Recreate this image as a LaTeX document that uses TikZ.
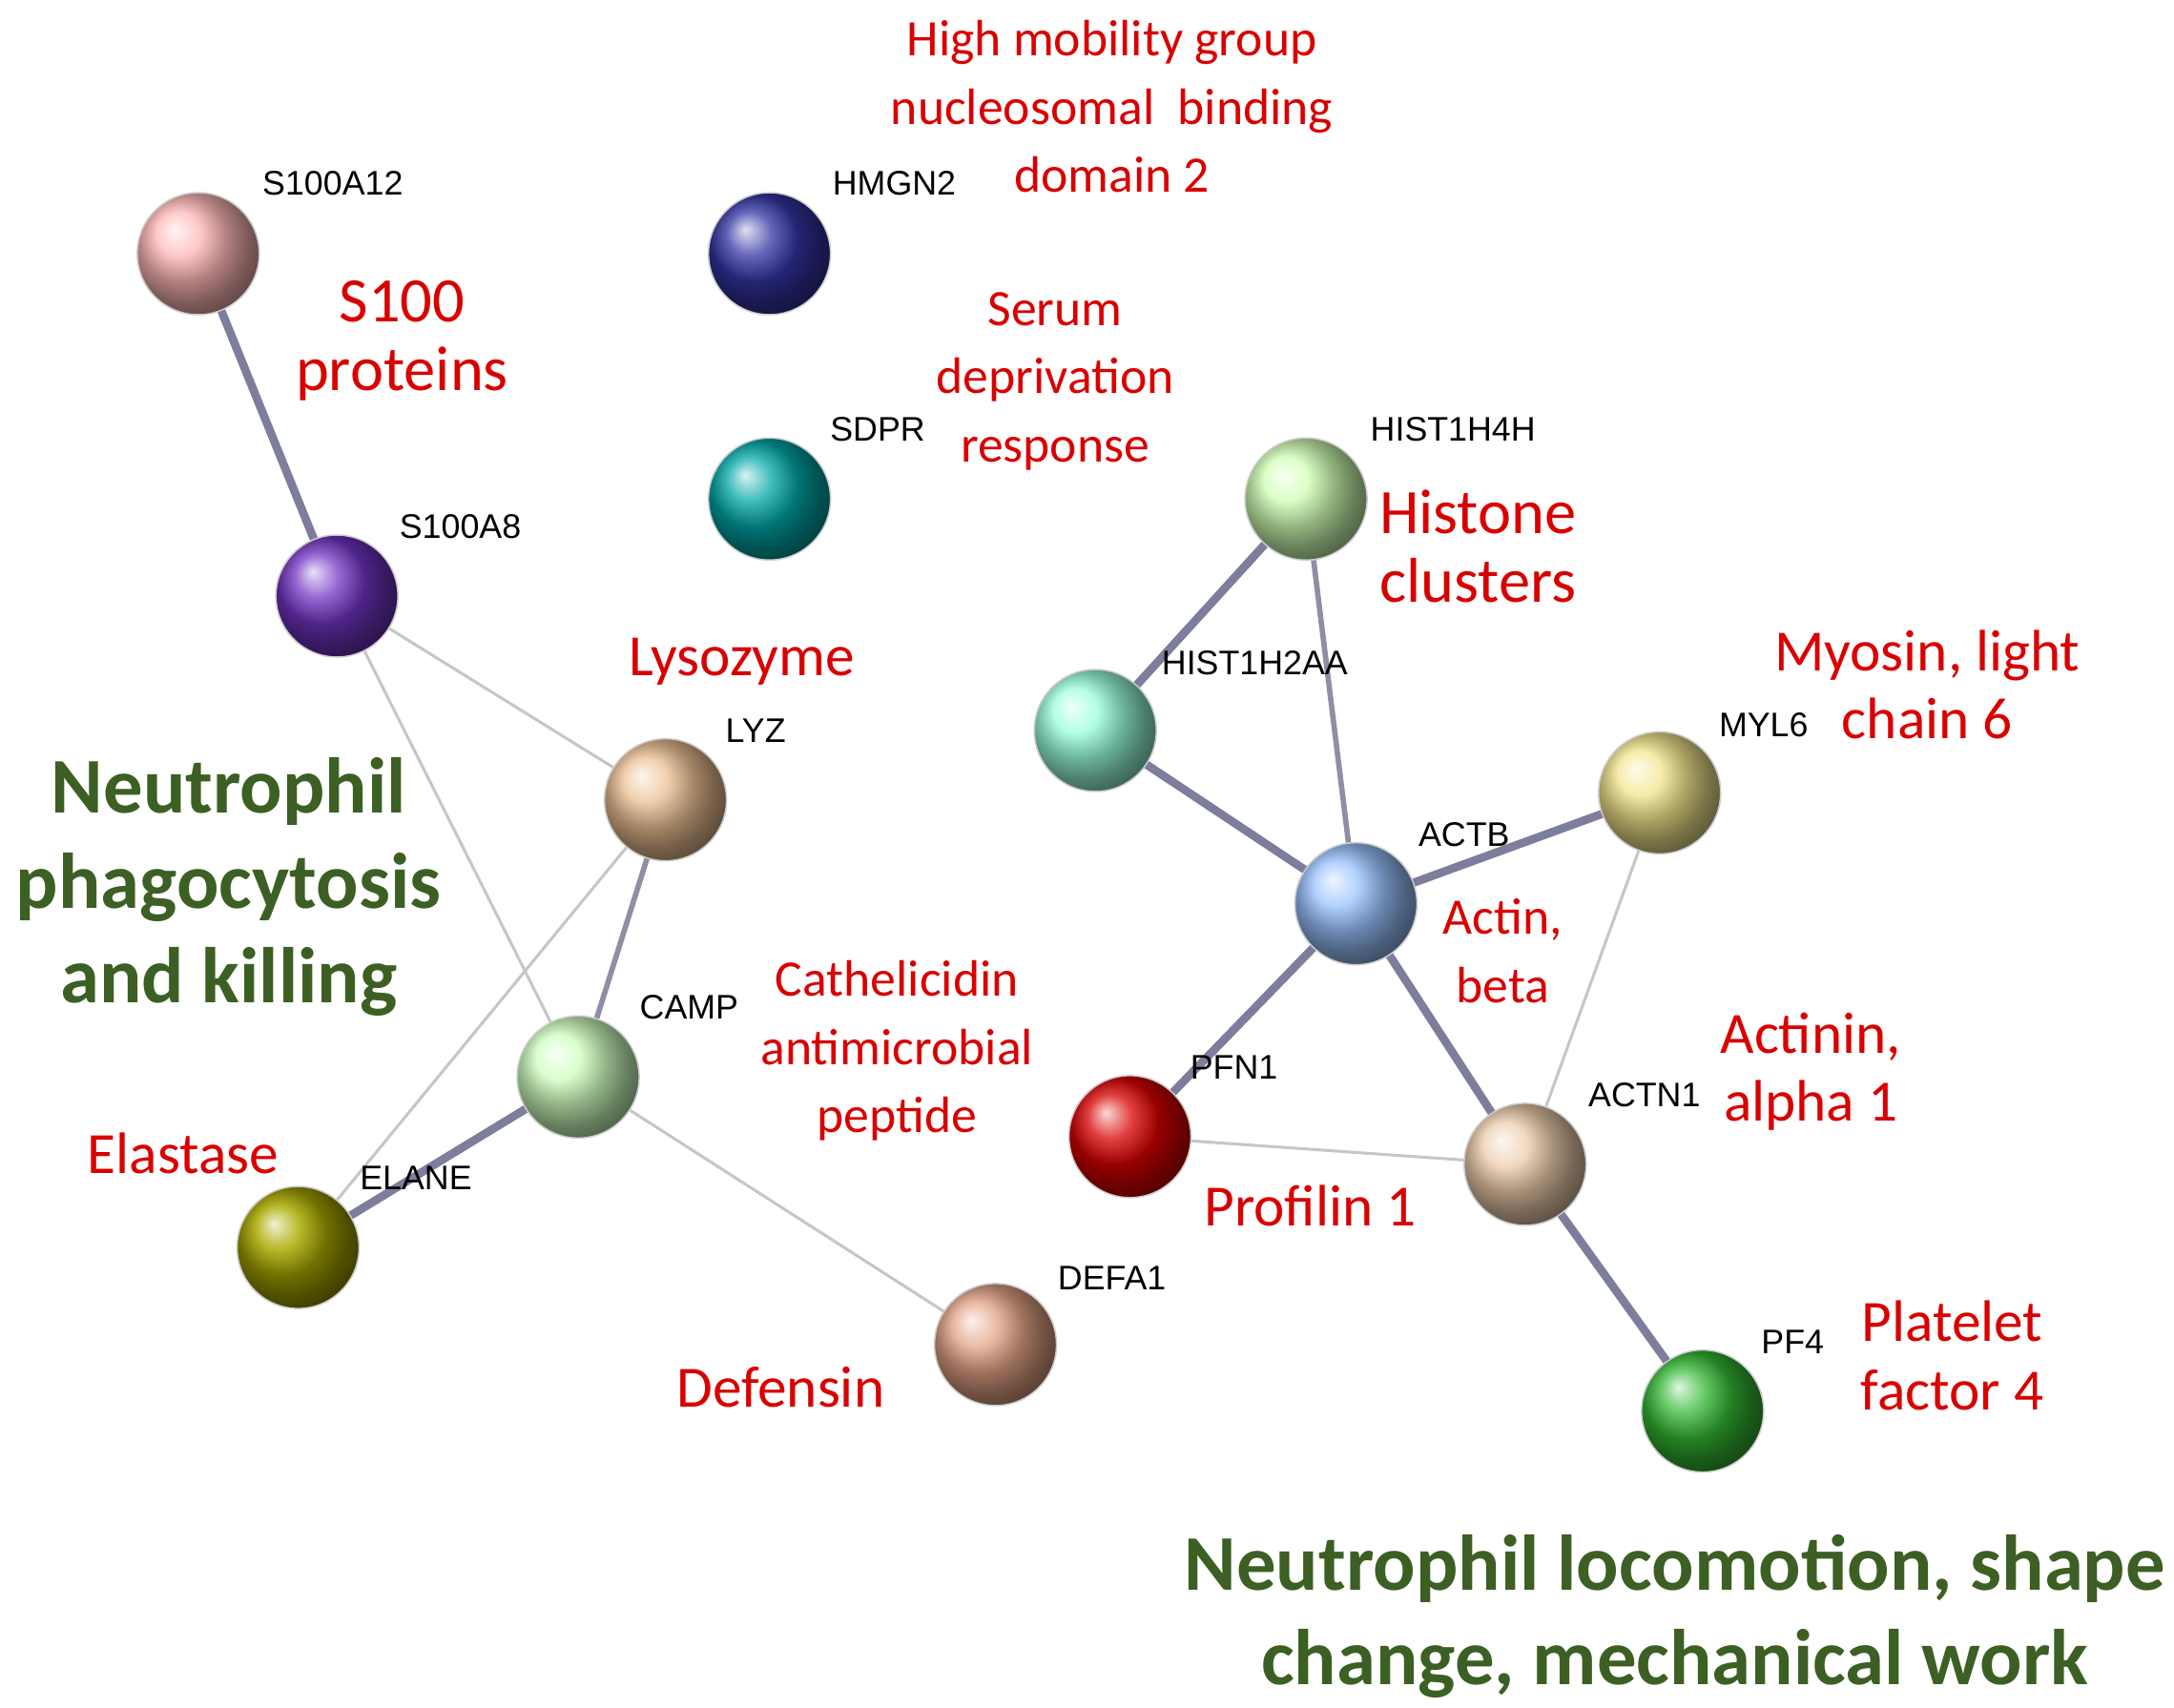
\documentclass[tikz,border=0pt]{standalone}
\usepackage{fontspec}
\setmainfont{Carlito}
\newfontfamily\genefont{Liberation Sans}
\usetikzlibrary{positioning}
\definecolor{groupgreen}{RGB}{60,95,35}
\tikzset{
  prot/.style={circle, minimum size=0.88cm, inner sep=0pt, ball color=#1, draw=gray!40, line width=0.3pt},
  gene/.style={font=\genefont\fontsize{7}{8}\selectfont, text=black},
  func/.style={font=\fontsize{10.5}{14}\selectfont, text=red!85!black, align=center},
  group/.style={font=\bfseries\fontsize{16.2}{19.5}\selectfont, text=groupgreen, align=center},
  strong/.style={line width=1.7pt, draw=gray!60!blue!50!black!60},
  weak/.style={line width=0.6pt, draw=gray!45},
  mid/.style={line width=1.1pt, draw=gray!55!blue!40!black!50},
}
\begin{document}
\begin{tikzpicture}[x=0.01cm, y=-0.01cm]
  \useasboundingbox (0,0) rectangle (1568,1232);
  %proteins
  \node[prot=pink!70!red!60!white] (s100a12) at (143,183) {};
  \node[prot=blue!55!black!80!white] (hmgn2) at (555,183) {};
  \node[prot=teal!70!cyan] (sdpr) at (555,360) {};
  \node[prot=violet!60!blue!80!white] (s100a8) at (243,430) {};
  \node[prot=lime!50!green!30!white] (hist1h4h) at (942,360) {};
  \node[prot=green!35!cyan!40!white] (hist1h2aa) at (790,527) {};
  \node[prot=orange!40!brown!50] (lyz) at (480,577) {};
  \node[prot=yellow!60!brown!50] (myl6) at (1197,572) {};
  \node[prot=cyan!40!blue!40!white] (actb) at (978,652) {};
  \node[prot=lime!30!green!25!white] (camp) at (417,777) {};
  \node[prot=red!85!black] (pfn1) at (815,820) {};
  \node[prot=orange!30!brown!40] (actn1) at (1100,840) {};
  \node[prot=olive!75] (elane) at (215,900) {};
  \node[prot=brown!45!pink] (defa1) at (718,970) {};
  \node[prot=green!65!black!80!white] (pf4) at (1228,1018) {};
  %links
  \begin{scope}[on background layer/.try]
  \draw[strong] (s100a12) -- (s100a8);
  \draw[weak] (s100a8) -- (lyz);
  \draw[weak] (s100a8) -- (camp);
  \draw[weak] (lyz) -- (elane);
  \draw[mid] (lyz) -- (camp);
  \draw[strong] (camp) -- (elane);
  \draw[weak] (camp) -- (defa1);
  \draw[strong] (hist1h4h) -- (hist1h2aa);
  \draw[mid] (hist1h4h) -- (actb);
  \draw[strong] (hist1h2aa) -- (actb);
  \draw[strong] (actb) -- (myl6);
  \draw[weak] (myl6) -- (actn1);
  \draw[strong] (actb) -- (pfn1);
  \draw[strong] (actb) -- (actn1);
  \draw[weak] (pfn1) -- (actn1);
  \draw[strong] (actn1) -- (pf4);
  \end{scope}
  %gene names
  \node[gene] at (240,132) {S100A12};
  \node[gene] at (645,132) {HMGN2};
  \node[gene] at (633,310) {SDPR};
  \node[gene] at (332,380) {S100A8};
  \node[gene] at (1048,310) {HIST1H4H};
  \node[gene] at (905,478) {HIST1H2AA};
  \node[gene] at (545,527) {LYZ};
  \node[gene] at (1272,523) {MYL6};
  \node[gene] at (1056,602) {ACTB};
  \node[gene] at (497,727) {CAMP};
  \node[gene] at (890,770) {PFN1};
  \node[gene] at (1186,790) {ACTN1};
  \node[gene] at (300,850) {ELANE};
  \node[gene] at (802,922) {DEFA1};
  \node[gene] at (1293,968) {PF4};
  %functions
  \node[func] at (802,77) {High mobility group\\nucleosomal\ \ binding\\domain 2};
  \node[func] at (290,246) {\fontsize{13}{16}\selectfont S100\\\fontsize{13}{16}\selectfont proteins};
  \node[func] at (761,275) {Serum\\deprivation\\response};
  \node[func] at (1066,394) {\fontsize{13}{16}\selectfont Histone\\\fontsize{13}{16}\selectfont clusters};
  \node[func] at (535,477) {\fontsize{12}{16}\selectfont Lysozyme};
  \node[func] at (1390,494) {\fontsize{12}{16}\selectfont Myosin, light\\\fontsize{12}{16}\selectfont chain 6};
  \node[func] at (1084,686) {Actin,\\beta};
  \node[func] at (647,758) {Cathelicidin\\antimicrobial\\peptide};
  \node[func] at (1306,773) {\fontsize{12}{16}\selectfont Actinin,\\\fontsize{12}{16}\selectfont alpha 1};
  \node[func] at (132,832) {\fontsize{12}{16}\selectfont Elastase};
  \node[func] at (945,870) {\fontsize{12}{16}\selectfont Profilin 1};
  \node[func] at (563,1001) {\fontsize{12}{16}\selectfont Defensin};
  \node[func] at (1408,978) {\fontsize{12}{16}\selectfont Platelet\\\fontsize{12}{16}\selectfont factor 4};
  %groups
  \node[group] at (165,640) {Neutrophil\\phagocytosis\\and killing};
  \node[group] at (1208,1166) {Neutrophil locomotion, shape\\change, mechanical work};
\end{tikzpicture}
\end{document}
